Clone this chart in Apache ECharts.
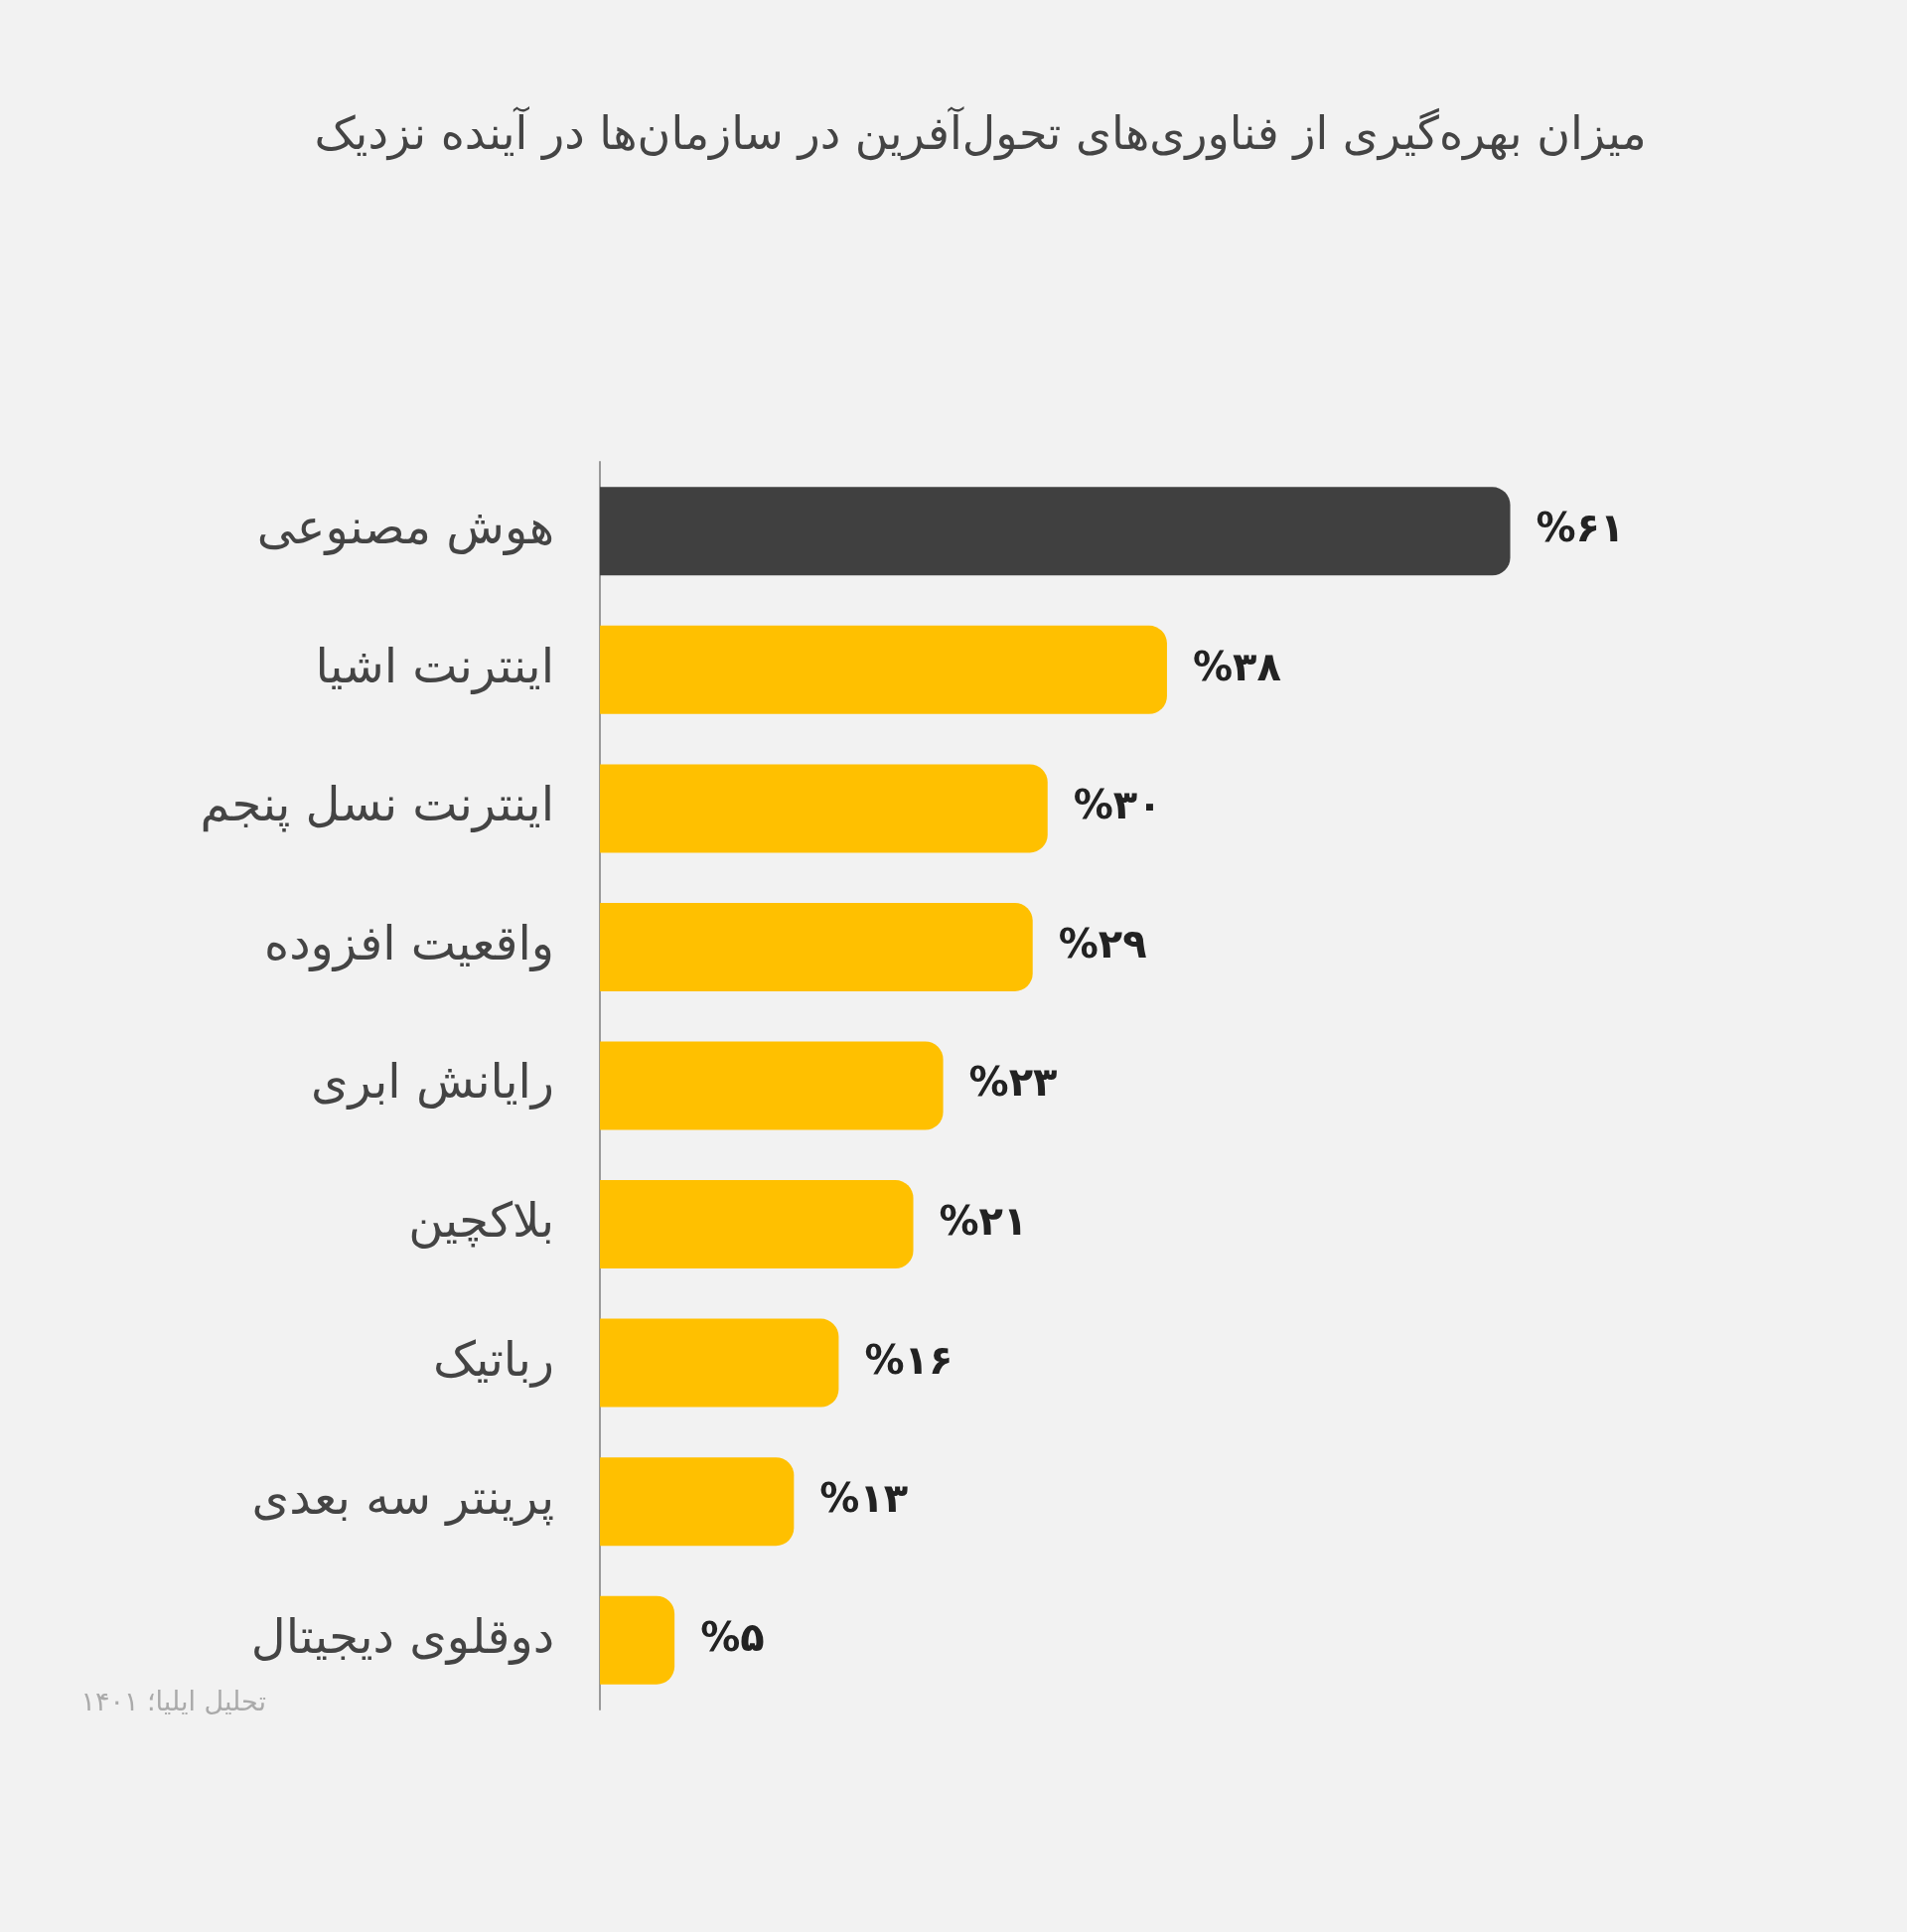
<!DOCTYPE html><html><head><meta charset="utf-8">
<script src="https://cdn.jsdelivr.net/npm/echarts@6/dist/echarts.min.js"></script>
<style>html,body{margin:0;background:#f2f2f2}#c{width:1920px;height:1945px}</style></head><body><div id="c"></div>
<script>
const categories=['هوش مصنوعی','اینترنت اشیا','اینترنت نسل پنجم','واقعیت افزوده','رایانش ابری','بلاکچین','رباتیک','پرینتر سه بعدی','دوقلوی دیجیتال'];
const values=[61,38,30,29,23,21,16,13,5];
const fa=n=>String(n).replace(/\d/g,d=>'۰۱۲۳۴۵۶۷۸۹'[d]);
const F='DejaVu Sans';
const chart=echarts.init(document.getElementById('c'));
chart.setOption({
 backgroundColor:'#f2f2f2',
 title:[{text:'میزان بهره‌گیری از فناوری‌های تحول‌آفرین در سازمان‌ها در آینده نزدیک',left:982,textAlign:'center',top:110,textStyle:{fontFamily:F,fontSize:46,fontWeight:'normal',color:'#444'}},
 {text:'تحلیل ایلیا؛ ۱۴۰۱',right:1920-273,top:1696,textStyle:{fontFamily:F,fontSize:27,fontWeight:'normal',color:'#aaa'}}],
 grid:{left:604,right:114,top:465,bottom:1945-1721},
 xAxis:{type:'value',min:0,max:80,show:false},
 yAxis:{type:'category',inverse:true,data:categories,axisTick:{show:false},axisLine:{lineStyle:{color:'#999',width:2}},
  axisLabel:{fontFamily:F,fontSize:48,color:'#444',margin:46}},
 series:[{type:'bar',barWidth:89,data:values.map((v,i)=>({value:v,itemStyle:{color:i===0?'#404040':'#FFC000'}})),
  itemStyle:{borderRadius:[0,18,18,0]},
  label:{show:true,position:'right',distance:26,fontFamily:F,fontSize:40,fontWeight:'bold',color:'#222',formatter:p=>'%'+fa(p.value)}}]
});
</script></body></html>
